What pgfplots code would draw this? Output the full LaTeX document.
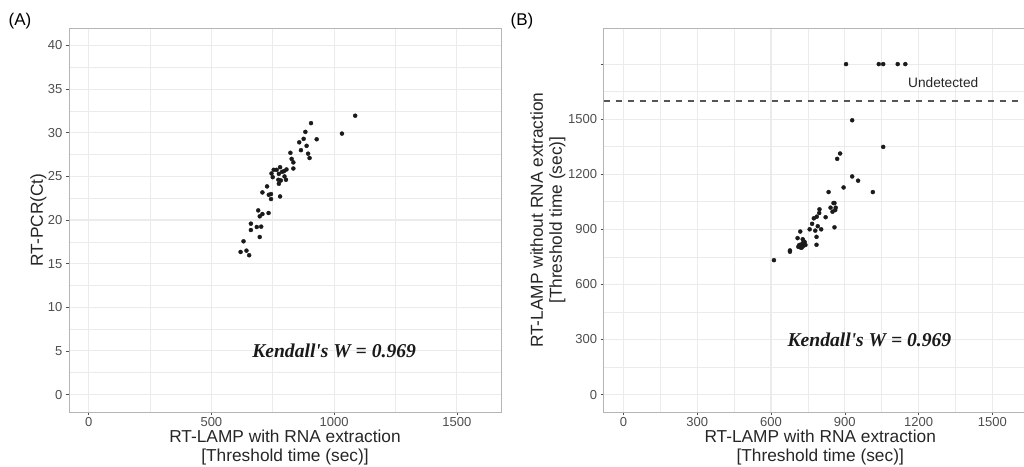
\documentclass[border=0pt]{standalone}
\usepackage{fontspec}
\setmainfont{Liberation Sans}
\newfontfamily\kfont{Liberation Serif}
\usepackage{pgfplots}
\usepackage{pgfplotstable}
\pgfplotsset{compat=1.18}
\definecolor{gridc}{HTML}{EBEBEB}
\definecolor{borderc}{HTML}{B5B5B5}
\definecolor{tickc}{HTML}{4D4D4D}
\definecolor{ptc}{HTML}{1A1A1A}
\definecolor{titc}{HTML}{262626}
\definecolor{dashc}{HTML}{555555}

\pgfplotstableread{
x y
1086 31.95
906 31.1
1032 29.9
883 30.1
929 29.25
876 29.3
858 28.9
888 28.5
865 28.0
894 27.6
900 27.1
822 27.7
827 27.0
834 26.6
834 25.9
780 26.05
754 25.75
766 25.75
745 25.33
750 24.91
775 25.29
788 25.52
796 25.6
806 25.79
798 24.99
773 24.61
783 24.53
804 24.61
775 24.15
727 23.85
708 23.16
734 22.89
743 22.97
743 22.4
780 22.7
691 21.1
708 20.68
697 20.42
733 20.8
661 19.58
661 18.85
685 19.2
703 19.24
697 18.05
631 17.56
619 16.34
643 16.49
654 15.96
}\dataA

\pgfplotstableread{
x y
930 1494
1056 1349
881 1313
869 1284
930 1188
954 1165
895 1128
1014 1103
834 1103
854 1043
858 1043
842 1018
863 1018
850 996
861 1005
797 1009
796 989
822 966
786 969
774 960
767 930
790 917
757 900
780 893
804 900
858 911
719 888
708 852
785 859
729 846
733 835
727 822
711 805
720 801
731 810
715 815
740 815
785 816
677 785
677 778
612 732
725 800
737 830
905 1800
1038 1800
1056 1800
1115 1800
1146 1800
}\dataB

\pgfplotsset{
  myaxis/.style={
    scale only axis,
    anchor=south west,
    axis line style={borderc, line width=0.9pt},
    tick align=outside,
    major tick length=3pt,
    minor tick length=0pt,
    tick style={tickc, line width=0.6pt},
    xtick pos=bottom,
    ytick pos=left,
    grid=both,
    major grid style={gridc, line width=1.1pt},
    minor grid style={gridc, line width=0.6pt},
    minor x tick num=1,
    minor y tick num=1,
    scaled ticks=false,
    /pgf/number format/assume math mode=true,
    /pgf/number format/1000 sep={},
    ticklabel style={font=\fontsize{13}{14}\selectfont, text=tickc, inner sep=1pt},
    xticklabel style={yshift=-1.5pt, inner sep=0.5pt},
    yticklabel style={xshift=-2.5pt},
    label style={font=\fontsize{17.3}{19}\selectfont, text=titc, inner sep=0pt},
    xlabel style={at={(axis description cs:0.5,-0.0925)}, anchor=center, align=center},
  },
  mypts/.style={only marks, mark=*, mark size=2pt, ptc, mark options={fill=ptc, draw=ptc}},
}

\begin{document}
\begin{tikzpicture}
\begin{axis}[myaxis,
  at={(69pt,54pt)},
  width=432pt, height=384pt,
  xmin=-80, xmax=1680, ymin=-2, ymax=42,
  xtick={0,500,1000,1500},
  ytick={0,5,...,40},
  xlabel={RT-LAMP with RNA extraction\\{[}Threshold time (sec){]}},
  ylabel={RT-PCR(Ct)},
  ylabel style={at={(axis description cs:-0.071,0.5)}, anchor=center},
]
\addplot[mypts] table[x=x,y=y] {\dataA};
\node[font=\kfont\fontsize{19.6}{22}\selectfont\bfseries\itshape, text=ptc] at (axis cs:1000,5) {Kendall's W = 0.969};
\end{axis}

\begin{axis}[myaxis,
  at={(603.7pt,54pt)},
  width=433pt, height=383.7pt,
  xmin=-80, xmax=1680, ymin=-95, ymax=1995,
  xtick={0,300,...,1500},
  ytick={0,300,...,1800},
  yticklabels={0,300,600,900,1200,1500,{}},
  xlabel={RT-LAMP with RNA extraction\\{[}Threshold time (sec){]}},
  ylabel={RT-LAMP without RNA extraction\\{[}Threshold time (sec){]}},
  ylabel style={at={(axis description cs:-0.129,0.5)}, anchor=center, align=center},
]
\addplot[mypts] table[x=x,y=y] {\dataB};
\addplot[color=dashc, line width=1.5pt, dash pattern=on 6.5pt off 5.5pt, forget plot] coordinates {(-80,1600) (1680,1600)};
\node[font=\fontsize{13.7}{15}\selectfont, text=titc] at (axis cs:1300,1697) {Undetected};
\node[font=\kfont\fontsize{19.6}{22}\selectfont\bfseries\itshape, text=ptc] at (axis cs:1000,300) {Kendall's W = 0.969};
\end{axis}

\node[font=\fontsize{17}{19}\selectfont, text=black] at (20pt,445pt) {(A)};
\node[font=\fontsize{17}{19}\selectfont, text=black] at (522pt,445pt) {(B)};

\pgfresetboundingbox
\useasboundingbox (0,0) rectangle (1024pt,466pt);
\end{tikzpicture}
\end{document}
